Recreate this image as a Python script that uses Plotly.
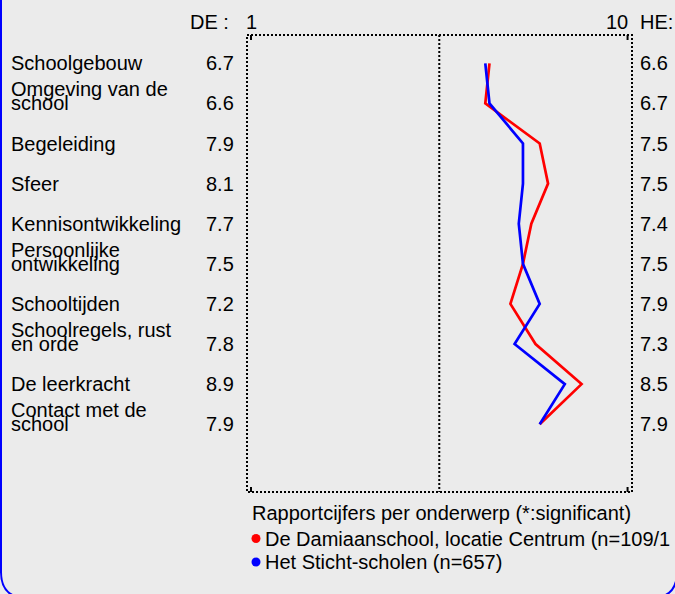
import plotly.graph_objects as go

# ---------------- data ----------------
topics = ["Schoolgebouw", "Omgeving van de<br>school", "Begeleiding", "Sfeer",
          "Kennisontwikkeling", "Persoonlijke<br>ontwikkeling", "Schooltijden",
          "Schoolregels, rust<br>en orde", "De leerkracht", "Contact met de<br>school"]
de_values = [6.7, 6.6, 7.9, 8.1, 7.7, 7.5, 7.2, 7.8, 8.9, 7.9]
he_values = [6.6, 6.7, 7.5, 7.5, 7.4, 7.5, 7.9, 7.3, 8.5, 7.9]
scale_labels = ["1", "10"]
legend_title = "Rapportcijfers per onderwerp (*:significant)"
series_names = ["De Damiaanschool, locatie Centrum (n=109/1", "Het Sticht-scholen (n=657)"]
series_colors = ["#FF0000", "#0000FF"]

# ---------------- geometry (pixel <-> data) ----------------
W, H = 675, 594
PXU = 41.84      # pixels per grade point
X1PX = 251.0     # pixel of grade 1
ROW0 = 63.3      # pixel of first row
ROWH = 40.1      # pixels per row

def fx(px):
    return 1 + (px - X1PX) / PXU

def fy(py):
    return (py - ROW0) / ROWH

xr = [fx(0), fx(W)]
yr = [fy(H), fy(0)]

FONT = "Liberation Sans, Arial, sans-serif"
BG = "#EBEBEB"

fig = go.Figure()
rows = list(range(len(topics)))
fig.add_trace(go.Scatter(x=de_values, y=rows, mode="lines",
                         line=dict(color=series_colors[0], width=2.7),
                         hoverinfo="skip", showlegend=False))
fig.add_trace(go.Scatter(x=he_values, y=rows, mode="lines",
                         line=dict(color=series_colors[1], width=2.7),
                         hoverinfo="skip", showlegend=False))

ann = []
def txt(text, x, y, anchor, color="black", size=20):
    ann.append(dict(text=text, x=x, y=y, xref="x", yref="y", showarrow=False,
                    xanchor=anchor, yanchor="middle",
                    font=dict(family=FONT, size=size, color=color),
                    borderpad=0, borderwidth=0))

LINE2 = 14 / ROWH
for i, t in enumerate(topics):
    parts = t.split("<br>")
    if len(parts) == 1:
        txt(parts[0], fx(11), i, "left")
    else:
        txt(parts[0], fx(11), i - LINE2, "left")
        txt(parts[1], fx(11), i, "left")
    txt(f"{de_values[i]:.1f}", fx(234), i, "right")
    txt(f"{he_values[i]:.1f}", fx(640), i, "left")

yh = fy(22)
txt("DE :", fx(229), yh, "right")
txt(scale_labels[0], fx(246), yh, "left")
txt(scale_labels[1], fx(628), yh, "right")
txt("HE:", fx(640), yh, "left")

txt(legend_title, fx(252), fy(513), "left")
txt(series_names[0], fx(265), fy(539), "left")
txt(series_names[1], fx(265), fy(562), "left")

shapes = []
# outer rounded border (blue)
def P(px, py):
    return f"{px / W:.5f},{1 - py / H:.5f}"
L, R, T, B, r = 1, 677, -40, 598, 26
path = (f"M {P(L, T)} L {P(L, B - r)} Q {P(L, B)} {P(L + r, B)} "
        f"L {P(R - r, B)} Q {P(R, B)} {P(R, B - r)} L {P(R, T)} Z")
shapes.append(dict(type="path", path=path, xref="paper", yref="paper",
                   line=dict(color="#0000FF", width=2), layer="below"))

top, bot = fy(35), fy(492)
left, right = fx(247), fx(632)
dot = dict(color="black", width=2, dash="2px,2px")
shapes.append(dict(type="rect", x0=left, x1=right, y0=top, y1=bot, xref="x", yref="y",
                   line=dot, layer="above"))
shapes.append(dict(type="line", x0=5.5, x1=5.5, y0=top, y1=bot, xref="x", yref="y",
                   line=dot, layer="above"))
tick = 5 / ROWH
for xv in (1, 10):
    shapes.append(dict(type="line", x0=xv, x1=xv, y0=top, y1=top + tick, xref="x", yref="y",
                       line=dict(color="black", width=2)))
    shapes.append(dict(type="line", x0=xv, x1=xv, y0=bot, y1=bot - tick, xref="x", yref="y",
                       line=dict(color="black", width=2)))

# legend dots
for k, yy in enumerate((538.5, 562)):
    shapes.append(dict(type="circle", xref="x", yref="y",
                       xsizemode="pixel", ysizemode="pixel",
                       xanchor=fx(256), yanchor=fy(yy),
                       x0=-4.5, x1=4.5, y0=-4.5, y1=4.5,
                       fillcolor=series_colors[k], line=dict(width=0)))

fig.update_layout(
    width=W, height=H, margin=dict(l=0, r=0, t=0, b=0),
    paper_bgcolor=BG, plot_bgcolor=BG,
    xaxis=dict(range=xr, visible=False, fixedrange=True),
    yaxis=dict(range=yr, visible=False, fixedrange=True),
    annotations=ann, shapes=shapes, showlegend=False,
    font=dict(family=FONT, size=20, color="black"),
)

fig.write_html("out.html", config={"displayModeBar": False},
               post_script="document.body.style.margin='0';")
